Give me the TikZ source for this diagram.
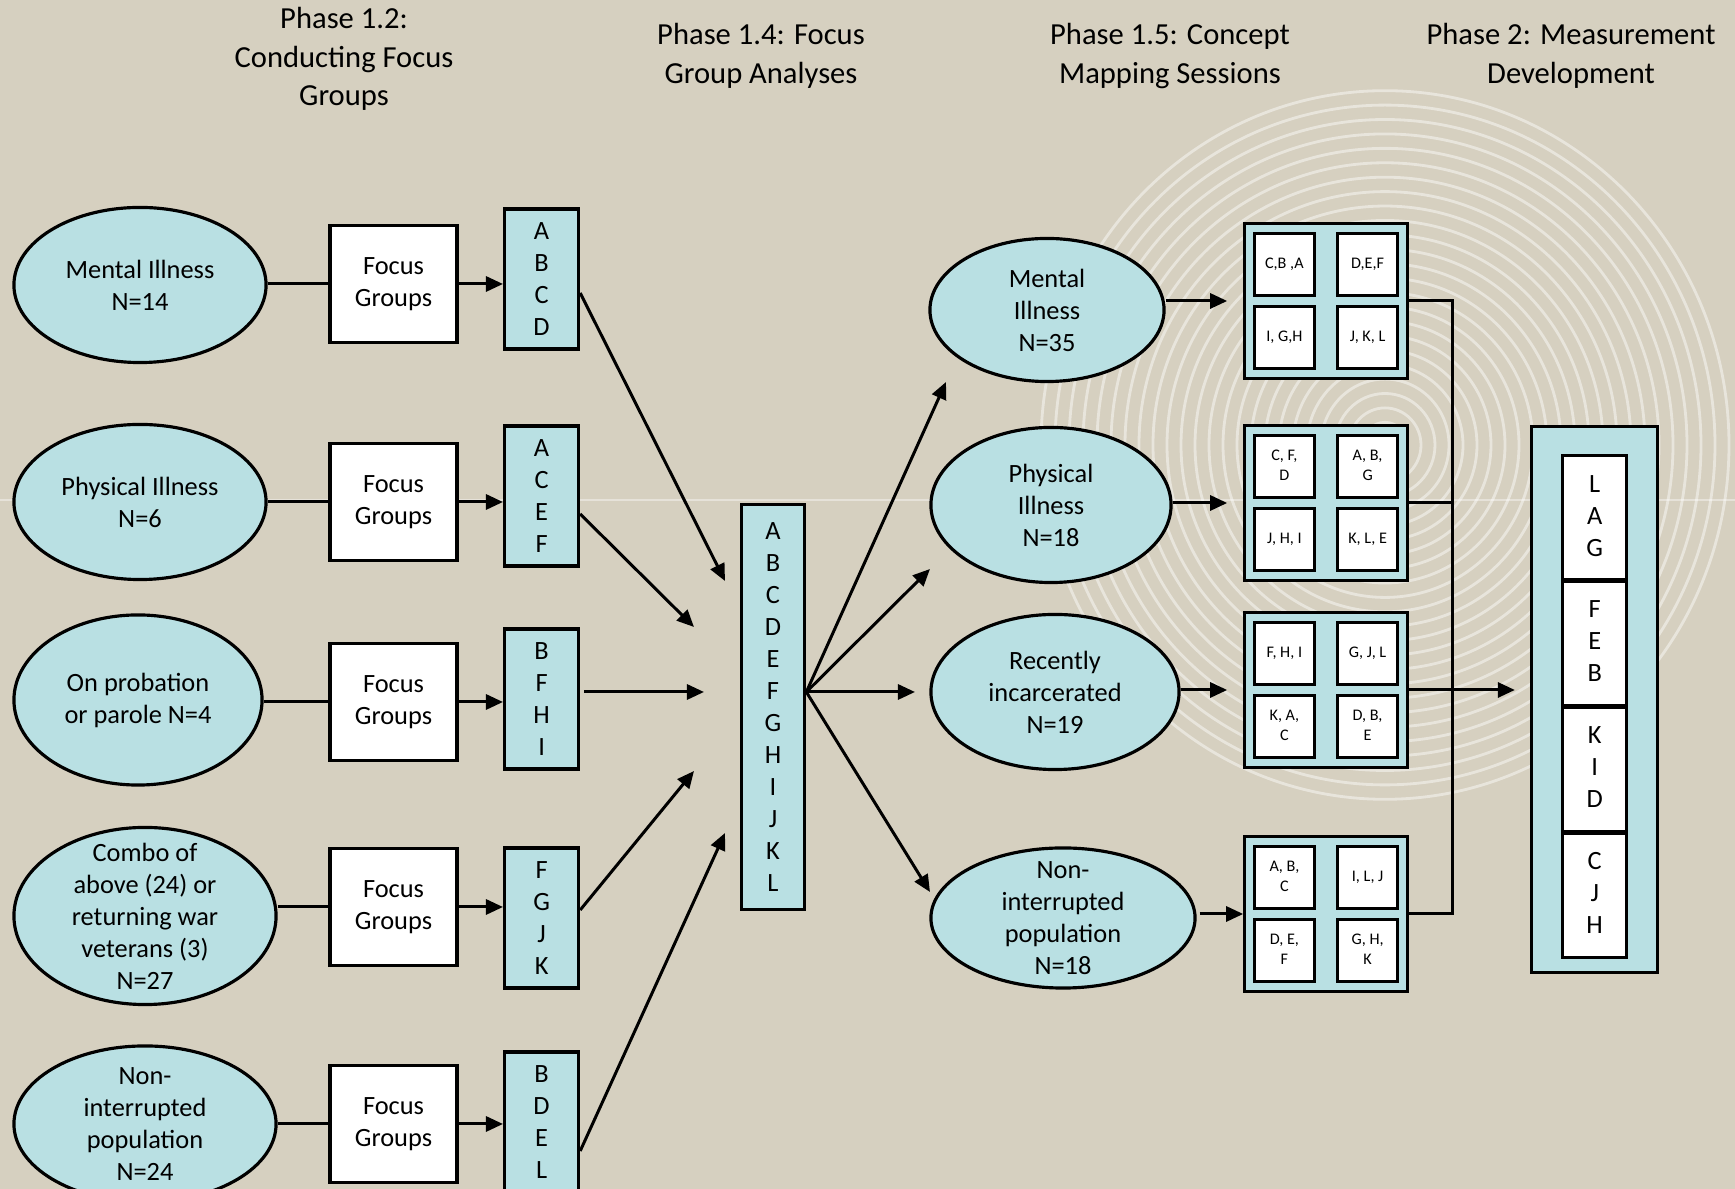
\documentclass[tikz,border=0pt]{standalone}
\usepackage{fontspec}
\setmainfont{Carlito}
\usepackage{tikz}
\usetikzlibrary{positioning,matrix,arrows.meta,shapes.geometric,calc}
\definecolor{slide}{RGB}{214,208,192}
\definecolor{paleblue}{RGB}{185,224,227}
\newcommand{\stackcell}[1]{\begin{tabular}{@{}c@{}}#1\end{tabular}}
\tikzset{
    sample/.style={
        ellipse,
        draw,
        fill=paleblue,
        line width=0.9pt,
        align=center,
        inner sep=-0.6cm,
        font=\fontsize{7.5}{9.1}\selectfont
    },
    focus box/.style={
        draw,
        fill=white,
        line width=0.9pt,
        align=center,
        minimum width=1.27cm,
        minimum height=1.17cm,
        font=\fontsize{7.5}{9.1}\selectfont
    },
    letter box/.style={
        draw,
        fill=paleblue,
        line width=0.9pt,
        align=center,
        inner sep=0pt,
        minimum width=0.74cm,
        minimum height=1.40cm,
        font=\fontsize{7.5}{9.1}\selectfont
    },
    phase/.style={
        align=center,
        font=\fontsize{8.7}{11}\selectfont
    },
    link/.style={line width=0.85pt},
    arr/.style={line width=0.85pt, -{Triangle[length=0.17cm,width=0.15cm]}},
    map nodes/.style={
        draw,
        fill=white,
        line width=0.9pt,
        inner sep=0pt,
        minimum width=0.6cm,
        minimum height=0.62cm,
        font=\fontsize{4.6}{5.7}\selectfont
    },
    mapgrid/.style={
        matrix of nodes,
        draw,
        fill=paleblue,
        line width=0.9pt,
        inner sep=0.08cm,
        column sep=0.2cm,
        row sep=0.08cm,
        nodes={map nodes}
    },
    dev nodes/.style={
        draw,
        fill=white,
        line width=0.9pt,
        inner sep=0pt,
        minimum width=0.64cm,
        minimum height=1.24cm,
        font=\fontsize{7.5}{9.1}\selectfont
    },
    devstack/.style={
        matrix of nodes,
        row sep=-\pgflinewidth,
        nodes={dev nodes}
    }
}
\begin{document}
\begin{tikzpicture}[x=0.01cm, y=-0.01cm]
\useasboundingbox (0,0) rectangle (1735,1189);
\clip (0,0) rectangle (1735,1189);
\fill[slide] (0,0) rectangle (1735,1189);
% background rings
\foreach \r in {22,36,...,350}
  \draw[white, draw opacity=0.45, line width=0.8pt] (1385,445) ellipse [x radius=\r, y radius=1.03*\r];
\draw[white, draw opacity=0.4, line width=0.3pt] (0,500) -- (1735,500);

% phase titles
\node[phase] (ph12) at (344,59) {Phase 1.2:\\Conducting Focus\\Groups};
\node[phase] (ph14) at (761,56) {Phase 1.4: Focus\\Group Analyses};
\node[phase] (ph15) at (1170,56) {Phase 1.5: Concept\\Mapping Sessions};
\node[phase] (ph2) at (1571,56) {Phase 2: Measurement\\Development};

% phase 1.2
\node[sample, minimum width=2.52cm, minimum height=1.55cm] (grp1) at (140,285) {Mental Illness\\N=14};
\node[sample, minimum width=2.52cm, minimum height=1.55cm] (grp2) at (140,502) {Physical Illness\\N=6};
\node[sample, minimum width=2.48cm, minimum height=1.70cm] (grp3) at (138,700) {On probation\\or parole N=4};
\node[sample, minimum width=2.62cm, minimum height=1.77cm] (grp4) at (145,916) {Combo of\\above (24) or\\returning war\\veterans (3)\\N=27};
\node[sample, minimum width=2.62cm, minimum height=1.56cm] (grp5) at (145,1124) {Non-\\interrupted\\population\\N=24};

\foreach \i/\y in {1/284,2/502,3/702,4/907,5/1124}
  \node[focus box] (fg\i) at (393.5,\y) {Focus\\Groups};

\foreach \i/\y/\txt in {1/279/{A\\B\\C\\D},2/496/{A\\C\\E\\F},3/699/{B\\F\\H\\I},4/918/{F\\G\\J\\K},5/1122/{B\\D\\E\\L}}
  \node[letter box] (let\i) at (541.6,\y) {\txt};

\foreach \i in {1,...,5}{
  \draw[link] (grp\i.east |- fg\i.west) -- (fg\i.west);
  \draw[arr] (fg\i.east) -- (fg\i.east -| let\i.west);
}

% phase 1.4
\node[letter box, minimum width=0.635cm, minimum height=4.05cm] (hub) at (773,707)
  {A\\B\\C\\D\\E\\F\\G\\H\\I\\J\\K\\L};
\coordinate (in1) at (725,581);
\coordinate (in2) at (694,627);
\coordinate (in3) at (704,692);
\coordinate (in4) at (694,771);
\coordinate (in5) at (725,833);
\foreach \i/\dx/\dy in {1/0/14,2/0/18,3/4/-7,4/0/-8,5/0/29}
  \draw[arr] ($(let\i.east)+(\dx,\dy)$) -- (in\i);

\coordinate (hubout) at ($(hub.east)+(0,-15)$);
\coordinate (out1) at (946,382);
\coordinate (out2) at (930,569);
\coordinate (out3) at (915,692);
\coordinate (out4) at (930,892);
\foreach \t in {1,...,4}
  \draw[arr] (hubout) -- (out\t);

% phase 1.5
\node[sample, minimum width=2.34cm, minimum height=1.43cm] (sess1) at (1047,310) {Mental\\Illness\\N=35};
\node[sample, minimum width=2.40cm, minimum height=1.55cm] (sess2) at (1051,505) {Physical\\Illness\\N=18};
\node[sample, minimum width=2.48cm, minimum height=1.55cm] (sess3) at (1055,692) {Recently\\incarcerated\\N=19};
\node[sample, minimum width=2.64cm, minimum height=1.40cm] (sess4) at (1063,918) {Non-\\interrupted\\population\\N=18};

\matrix[mapgrid] (map1) at (1326,301) {
  C,B ,A & D,E,F \\
  I, G,H & J, K, L \\
};
\matrix[mapgrid] (map2) at (1326,503) {
  \stackcell{C, F,\\D} & \stackcell{A, B,\\G} \\
  J, H, I & K, L, E \\
};
\matrix[mapgrid] (map3) at (1326,690) {
  F, H, I & G, J, L \\
  \stackcell{K, A,\\C} & \stackcell{D, B,\\E} \\
};
\matrix[mapgrid] (map4) at (1326,914) {
  \stackcell{A, B,\\C} & I, L,\ J \\
  \stackcell{D, E,\\F} & \stackcell{G, H,\\K} \\
};

\foreach \i in {1,2,3}
  \draw[arr, shorten >=0.16cm] (sess\i.east |- map\i.west) -- (map\i.west);
\draw[arr] ($(sess4.east |- map4.west)+(3,0)$) -- (map4.west);

% phase 2
\node[draw, fill=paleblue, line width=0.9pt, minimum width=1.26cm, minimum height=5.45cm] (dev) at (1594.5,699.5) {};
\matrix[devstack] (devm) at (1594.7,706.5) {
  \stackcell{L\\A\\G} \\
  \stackcell{F\\E\\B} \\
  \stackcell{K\\I\\D} \\
  \stackcell{C\\J\\H} \\
};

\coordinate (bus) at (1452,0);
\draw[link] (map1.east) -- (map1.east -| bus) -- (map4.east -| bus) -- (map4.east);
\draw[link] (map2.east) -- (map2.east -| bus);
\draw[arr, shorten >=0.15cm] (map3.east) -- (map3.east -| dev.west);
\end{tikzpicture}
\end{document}
